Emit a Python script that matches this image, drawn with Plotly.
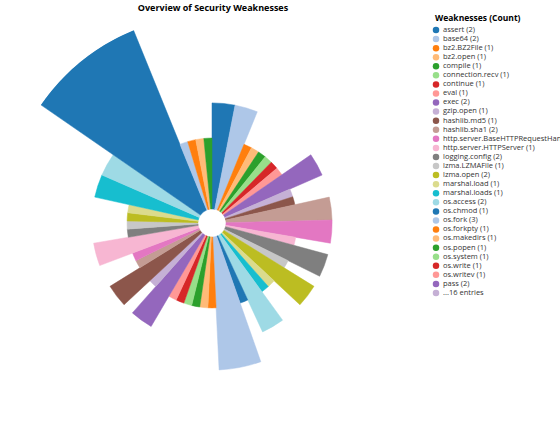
import numpy as np
import plotly.graph_objects as go

# weaknesses found, sorted by name (as in the chart)
names = [
    "assert", "base64", "bz2.BZ2File", "bz2.open", "compile", "connection.recv",
    "continue", "eval", "exec", "gzip.open", "hashlib.md5", "hashlib.sha1",
    "http.server.BaseHTTPRequestHandler", "http.server.HTTPServer", "logging.config",
    "lzma.LZMAFile", "lzma.open", "marshal.load", "marshal.loads", "os.access",
    "os.chmod", "os.fork", "os.forkpty", "os.makedirs", "os.popen", "os.system",
    "os.write", "os.writev", "pass",
    # not listed in the legend ("...16 entries")
    "pickle.load", "pickle.loads", "random.randint", "random.random", "requests.get",
    "shelve.open", "socket.socket", "ssl.wrap_socket", "subprocess.Popen",
    "subprocess.call", "subprocess.check_output", "subprocess.run", "tarfile.open",
    "tempfile.mktemp", "urllib.request.urlopen", "yaml.load",
]
counts = [
    2, 2, 1, 1, 1, 1,
    1, 1, 2, 1, 1, 2,
    2, 1, 2,
    1, 2, 1, 1, 2,
    1, 3, 1, 1, 1, 1,
    1, 1, 2,
    1, 2, 1, 1, 2,
    1, 1, 1, 1,
    2, 2, 6, 1,
    1, 1, 1,
]
n_listed = 29

palette = ["#1f77b4", "#aec7e8", "#ff7f0e", "#ffbb78", "#2ca02c", "#98df8a",
           "#d62728", "#ff9896", "#9467bd", "#c5b0d5", "#8c564b", "#c49c94",
           "#e377c2", "#f7b6d2", "#7f7f7f", "#c7c7c7", "#bcbd22", "#dbdb8d",
           "#17becf", "#9edae5"]

W, H = 560, 437
cx, cy = 212, 223       # centre of the rose, px
R_OUT = 208             # radius of the largest wedge, px
HOLE = 14               # white hole in the middle, px

counts_arr = np.array(counts, dtype=float)
total = counts_arr.sum()
cum = np.cumsum(counts_arr) - counts_arr
theta = (cum + counts_arr / 2) / total * 360
width = counts_arr / total * 360
colors = [palette[i % len(palette)] for i in range(len(names))]

# sqrt radius scale, zero based
rmax = np.sqrt(counts_arr.max())
base = HOLE / R_OUT * rmax
r_len = np.sqrt(counts_arr) - base

fig = go.Figure()
fig.add_trace(go.Barpolar(
    r=r_len, base=base, theta=theta, width=width,
    marker=dict(color=colors, line=dict(color=colors, width=0.5)),
    customdata=np.stack([names, counts], axis=1),
    hovertemplate="%{customdata[0]}: %{customdata[1]}<extra></extra>",
    showlegend=False,
))

# legend drawn as a small scatter
leg_labels = [f" {n} ({c})" for n, c in zip(names[:n_listed], counts[:n_listed])]
leg_labels.append(" ...16 entries")
leg_colors = colors[:n_listed] + [palette[n_listed % len(palette)]]
fig.add_trace(go.Scatter(
    x=[0] * len(leg_labels), y=list(range(len(leg_labels))),
    mode="markers+text", text=leg_labels, textposition="middle right",
    textfont=dict(size=7.5, color="#333333", family="Open Sans"),
    marker=dict(color=leg_colors, size=6.5),
    cliponaxis=False, hoverinfo="skip", showlegend=False,
))

y_top, y_bot = 30, 293
fig.update_layout(
    width=W, height=H,
    margin=dict(l=0, r=0, t=0, b=0),
    paper_bgcolor="white", plot_bgcolor="white",
    font=dict(family="Open Sans"),
    title=dict(text="<b>Overview of Security Weaknesses</b>", x=213 / W, xanchor="center",
               y=1 - 8 / H, yanchor="middle", font=dict(size=9, color="black")),
    polar=dict(
        domain=dict(x=[(cx - R_OUT) / W, (cx + R_OUT) / W],
                    y=[(H - cy - R_OUT) / H, (H - cy + R_OUT) / H]),
        bgcolor="white", bargap=0,
        radialaxis=dict(range=[0, rmax], visible=False),
        angularaxis=dict(rotation=90, direction="clockwise", visible=False),
    ),
    xaxis=dict(domain=[436 / W, 1], range=[0, 1], visible=False, fixedrange=True),
    yaxis=dict(domain=[1 - y_bot / H, 1 - y_top / H], range=[len(leg_labels) - 1, 0],
               visible=False, fixedrange=True),
    annotations=[dict(text="<b>Weaknesses (Count)</b>", x=433 / W, y=1 - 18 / H,
                      xref="paper", yref="paper", xanchor="left", yanchor="middle",
                      showarrow=False, font=dict(size=8.5, color="black"))],
)

# page body has an 8px margin by default, drop it so the figure sits at 0,0
fig.write_html("out.html", config={"displayModeBar": False},
               post_script="document.body.style.margin='0';")
